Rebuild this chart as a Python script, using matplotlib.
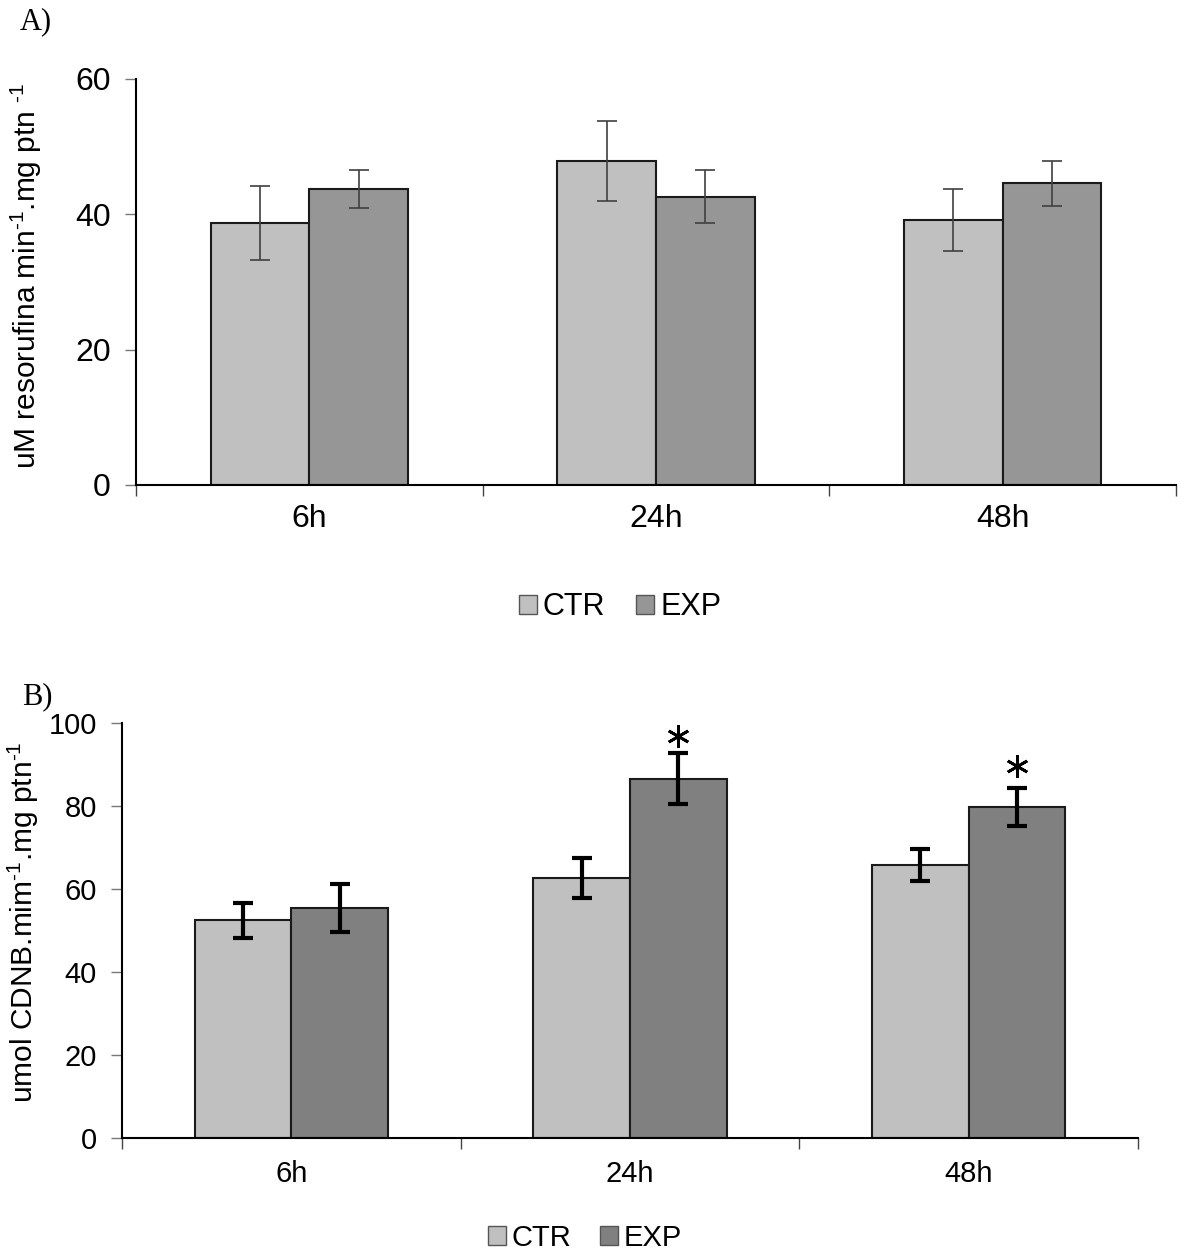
import matplotlib
matplotlib.use("Agg")
import matplotlib.pyplot as plt
import numpy as np
from matplotlib.patches import Patch

categories = ["6h", "24h", "48h"]
# Panel A
a_ctr = [38.7, 47.9, 39.2]
a_ctr_err = [5.5, 5.9, 4.6]
a_exp = [43.8, 42.6, 44.6]
a_exp_err = [2.8, 3.9, 3.3]
a_yticks = [0, 20, 40, 60]
# Panel B
b_ctr = [52.5, 62.7, 65.8]
b_ctr_err = [4.2, 4.8, 3.8]
b_exp = [55.5, 86.6, 79.7]
b_exp_err = [5.8, 6.2, 4.6]
b_yticks = [0, 20, 40, 60, 80, 100]
b_star_idx = [1, 2]
b_star_y = [96.8, 89.6]

plt.rcParams['font.family'] = ['Liberation Sans', 'DejaVu Sans']
plt.rcParams['mathtext.fontset'] = 'custom'
plt.rcParams['mathtext.rm'] = 'Liberation Sans'
plt.rcParams['mathtext.it'] = 'Liberation Sans'
plt.rcParams['mathtext.bf'] = 'Liberation Sans:bold'

W, H = 1179, 1254
fig = plt.figure(figsize=(W/100, H/100), dpi=100)

def fx(px): return px / W
def fy(py): return 1 - py / H

def panel(ax, ctr, ctr_err, exp, exp_err, exp_color, yticks, ymax, ecolor, elw, capsize, tick_fs, xpad):
    x = np.arange(len(categories))
    w = 0.285
    ax.bar(x - w/2, ctr, w, color="#c0c0c0", edgecolor="#1a1a1a", linewidth=1.5, zorder=2)
    ax.bar(x + w/2, exp, w, color=exp_color, edgecolor="#1a1a1a", linewidth=1.5, zorder=2)
    ax.errorbar(x - w/2, ctr, yerr=ctr_err, fmt="none", ecolor=ecolor, elinewidth=elw,
                capsize=capsize, capthick=elw, zorder=3)
    ax.errorbar(x + w/2, exp, yerr=exp_err, fmt="none", ecolor=ecolor, elinewidth=elw,
                capsize=capsize, capthick=elw, zorder=3)
    ax.set_xlim(-0.5, len(categories) - 0.5)
    ax.set_ylim(0, ymax)
    ax.set_yticks(yticks)
    ax.set_yticklabels([str(t) for t in yticks], fontsize=tick_fs)
    ax.set_xticks(np.arange(len(categories) + 1) - 0.5)
    ax.set_xticklabels([])
    ax.set_xticks(x, minor=True)
    ax.set_xticklabels(categories, minor=True, fontsize=tick_fs)
    ax.tick_params(axis="x", which="minor", length=0, pad=xpad)
    ax.tick_params(axis="x", which="major", length=8, width=1, color="#444444", direction="out")
    ax.tick_params(axis="y", length=8, width=1, color="#777777", direction="out", pad=10)
    for s in ["top", "right"]:
        ax.spines[s].set_visible(False)
    ax.spines["left"].set_linewidth(1.5)
    ax.spines["bottom"].set_linewidth(1.5)
    return x, w

# Panel A
ax1 = fig.add_axes([fx(136), fy(485), fx(1176) - fx(136), fy(79) - fy(485)])
panel(ax1, a_ctr, a_ctr_err, a_exp, a_exp_err, "#969696", a_yticks, 60, "#404040", 1.2, 7, 23, 14)
ax1.set_ylabel(r"uM resorufina min$^{\text{-1}}$.mg ptn $^{\text{-1}}$", fontsize=21.5)
ax1.yaxis.set_label_coords(fx(44), fy(276), transform=fig.transFigure)
handles = [Patch(facecolor="#c0c0c0", edgecolor="#555555", label="CTR"),
           Patch(facecolor="#969696", edgecolor="#555555", label="EXP")]
fig.legend(handles=handles, loc="center", bbox_to_anchor=(fx(620), fy(607)), ncol=2,
           frameon=False, fontsize=22, handlelength=0.6, handleheight=0.6,
           handletextpad=0.2, columnspacing=1.0)
fig.text(fx(20), fy(22), "A)", fontsize=22, family=['Liberation Serif', 'DejaVu Serif'],
         va="center", ha="left")

# Panel B
ax2 = fig.add_axes([fx(122), fy(1138), fx(1138) - fx(122), fy(723) - fy(1138)])
xb, wb = panel(ax2, b_ctr, b_ctr_err, b_exp, b_exp_err, "#808080", b_yticks, 100, "black", 3, 7, 21, 16)
ax2.set_ylabel(r"umol CDNB.mim$^{\text{-1}}$.mg ptn$^{\text{-1}}$", fontsize=21.5)
ax2.yaxis.set_label_coords(fx(41), fy(922), transform=fig.transFigure)
for i, sy in zip(b_star_idx, b_star_y):
    ax2.plot(xb[i] + wb/2, sy, marker=(6, 2, 0), ms=16, mew=2.0, color="black", zorder=4,
             clip_on=False)
handles2 = [Patch(facecolor="#c0c0c0", edgecolor="#555555", label="CTR"),
            Patch(facecolor="#808080", edgecolor="#555555", label="EXP")]
fig.legend(handles=handles2, loc="center", bbox_to_anchor=(fx(585), fy(1238)), ncol=2,
           frameon=False, fontsize=21, handlelength=0.6, handleheight=0.6,
           handletextpad=0.2, columnspacing=1.0)
fig.text(fx(22), fy(697), "B)", fontsize=22, family=['Liberation Serif', 'DejaVu Serif'],
         va="center", ha="left")

fig.savefig("out.png", dpi=100)
